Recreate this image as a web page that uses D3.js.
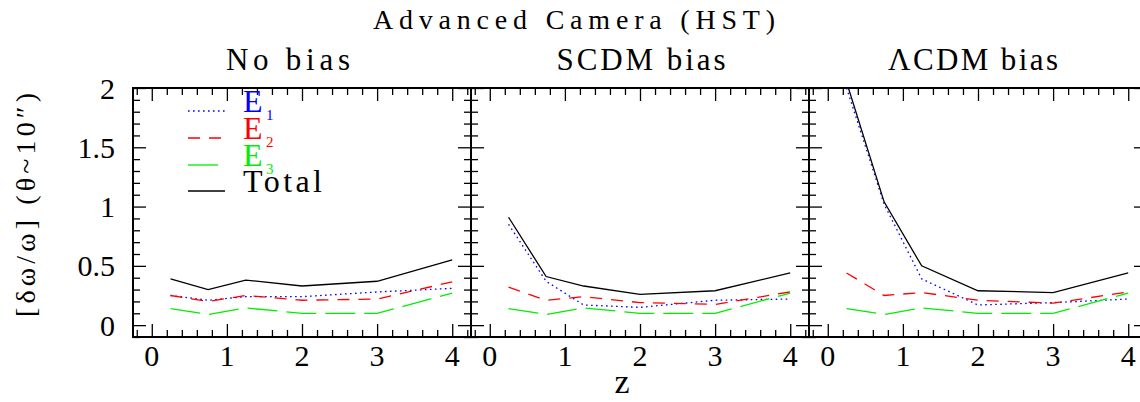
<!DOCTYPE html>
<html><head><meta charset="utf-8">
<script src="https://cdn.jsdelivr.net/npm/d3@7"></script>
</head><body style="margin:0">
<svg id="c" width="1140" height="402"></svg>
<script>
// ---- data ----
const zValues = [0.25, 0.75, 1.25, 2, 3, 4];
const panelTitles = ["No bias", "SCDM bias", "\u039BCDM bias"];
const xTickLabels = [0, 1, 2, 3, 4];
const yTickLabels = [0, 0.5, 1, 1.5, 2];

const e1NoBias   = [0.25, 0.21, 0.24, 0.24, 0.28, 0.31];
const e2NoBias   = [0.25, 0.20, 0.25, 0.21, 0.22, 0.365];
const e3NoBias   = [0.14, 0.09, 0.145, 0.10, 0.10, 0.27];
const totNoBias  = [0.39, 0.30, 0.38, 0.33, 0.37, 0.55];

const e1SCDM     = [0.85, 0.37, 0.17, 0.15, 0.21, 0.22];
const e2SCDM     = [0.32, 0.21, 0.24, 0.19, 0.175, 0.28];
const e3SCDM     = [0.14, 0.09, 0.145, 0.10, 0.10, 0.27];
const totSCDM    = [0.91, 0.41, 0.33, 0.26, 0.29, 0.44];

const e1LCDM     = [2.00, 1.02, 0.39, 0.17, 0.19, 0.22];
const e2LCDM     = [0.44, 0.25, 0.275, 0.21, 0.185, 0.28];
const e3LCDM     = [0.14, 0.09, 0.145, 0.10, 0.10, 0.27];
const totLCDM    = [2.05, 1.04, 0.50, 0.29, 0.275, 0.44];

const seriesNames = ["E1", "E2", "E3", "Total"];
const panelData = [
  [e1NoBias, e2NoBias, e3NoBias, totNoBias],
  [e1SCDM, e2SCDM, e3SCDM, totSCDM],
  [e1LCDM, e2LCDM, e3LCDM, totLCDM]
];

// ---- styles ----
const styles = [
  {color: "#0000ff", dash: "1.6,3.4"},
  {color: "#ff0000", dash: "12,9"},
  {color: "#00ee00", dash: "30,9"},
  {color: "#000000", dash: null}
];

const svg = d3.select("#c");
const W = 338, H = 249, TOP = 88;
const lefts = [133, 471, 809];

const x = d3.scaleLinear().domain([-0.25, 4.25]).range([0, W]);
const y = d3.scaleLinear().domain([-0.1, 2.0]).range([H, 0]);

const xMajor = d3.range(0, 4.001, 1);
const xMinor = d3.range(-0.2, 4.21, 0.2).filter(v => Math.abs(v - Math.round(v)) > 1e-6);
const yMajor = d3.range(0, 2.001, 0.5);
const yMinor = d3.range(-0.1, 2.01, 0.1).filter(v => Math.abs(v*2 - Math.round(v*2)) > 1e-6);

function styleAxis(sel){
  sel.select(".domain").remove();
  sel.selectAll(".tick line").attr("stroke", "#000").attr("stroke-width", 1.3);
  sel.selectAll(".tick text").remove();
}

function txt(parent, size){
  return parent.append("text")
    .style("font-family", `"Times New Roman"`)
    .attr("font-size", size)
    .attr("fill", "#000");
}

const line = d3.line().x((d, i) => x(zValues[i])).y(d => y(d));

panelData.forEach((series, p) => {
  const g = svg.append("g").attr("transform", `translate(${lefts[p]},${TOP})`);
  const clipId = "clip" + p;
  g.append("clipPath").attr("id", clipId).append("rect")
    .attr("x", 0).attr("y", 0).attr("width", W).attr("height", H);

  [[xMajor, 13], [xMinor, 7]].forEach(([vals, len]) => {
    g.append("g").attr("transform", `translate(0,${H})`)
      .call(d3.axisBottom(x).tickValues(vals).tickSize(-len).tickFormat("")).call(styleAxis);
    g.append("g")
      .call(d3.axisTop(x).tickValues(vals).tickSize(-len).tickFormat("")).call(styleAxis);
  });
  [[yMajor, 13], [yMinor, 7]].forEach(([vals, len]) => {
    g.append("g")
      .call(d3.axisLeft(y).tickValues(vals).tickSize(-len).tickFormat("")).call(styleAxis);
    g.append("g").attr("transform", `translate(${W},0)`)
      .call(d3.axisRight(y).tickValues(vals).tickSize(-len).tickFormat("")).call(styleAxis);
  });

  g.append("rect").attr("x", 0).attr("y", 0).attr("width", W).attr("height", H)
    .attr("fill", "none").attr("stroke", "#000").attr("stroke-width", 2);

  const lg = g.append("g").attr("clip-path", `url(#${clipId})`);
  series.forEach((vals, s) => {
    lg.append("path").datum(vals).attr("d", line)
      .attr("fill", "none").attr("stroke", styles[s].color)
      .attr("stroke-width", 1.3)
      .attr("stroke-dasharray", styles[s].dash);
  });

  xTickLabels.forEach(d => {
    txt(g, 30).attr("x", x(d)).attr("y", H + 29)
      .attr("text-anchor", "middle").text(d);
  });

  if (p === 0) {
    yTickLabels.forEach(d => {
      txt(g, 30).attr("x", -18).attr("y", y(d) + 10.5)
        .attr("text-anchor", "end").text(d);
    });
  }

  const tx = [288, 641, 973][p];
  const tl = [124, 169, 170][p];
  txt(svg, 31).attr("x", tx).attr("y", 70).attr("text-anchor", "middle")
    .attr("textLength", tl).attr("lengthAdjust", "spacing")
    .text(panelTitles[p]);
});

txt(svg, 28).attr("x", 574).attr("y", 29).attr("text-anchor", "middle")
  .attr("textLength", 402).attr("lengthAdjust", "spacing")
  .text("Advanced Camera (HST)");

txt(svg, 34).attr("x", 622).attr("y", 393).attr("text-anchor", "middle").text("z");
txt(svg, 28).attr("transform", "translate(35,205) rotate(-90)")
  .attr("text-anchor", "middle")
  .attr("textLength", 224).attr("lengthAdjust", "spacing")
  .text("[\u03B4\u03C9/\u03C9]  (\u03B8~10\u2033)");

const legRows = [111, 138, 165, 191];
const lgd = svg.append("g");
seriesNames.forEach((name, i) => {
  const yy = legRows[i];
  lgd.append("line").attr("x1", 188).attr("x2", 225).attr("y1", yy).attr("y2", yy)
    .attr("stroke", styles[i].color).attr("stroke-width", 1.3)
    .attr("stroke-dasharray", styles[i].dash);
  if (name === "Total") {
    txt(lgd, 32).attr("x", 243).attr("y", yy + 1)
      .attr("textLength", 79).attr("lengthAdjust", "spacing").text("Total");
  } else {
    txt(lgd, 32).attr("x", 243).attr("y", yy + 1)
      .attr("fill", styles[i].color).text("E");
    txt(lgd, 15).attr("x", 266).attr("y", yy + 9)
      .attr("fill", styles[i].color).text(name.slice(1));
  }
});
</script>
</body></html>
